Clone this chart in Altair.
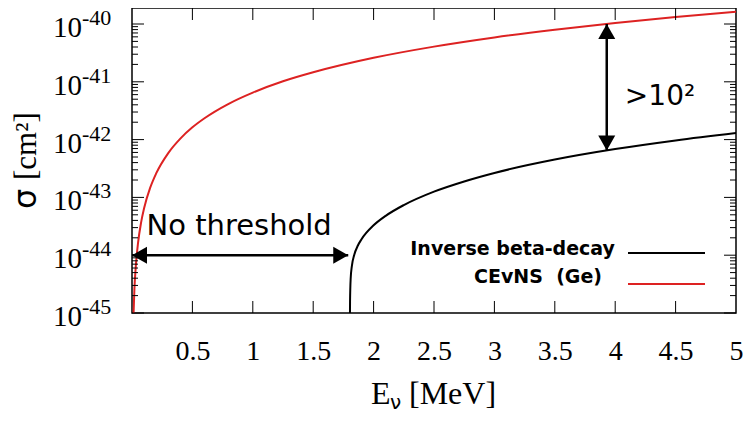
import altair as alt
import pandas as pd

# ---- data ----
# CEvNS (Ge) cross section (red curve)
cevns_E = [0.01, 0.02, 0.03, 0.05, 0.075, 0.1, 0.15, 0.2, 0.3, 0.4, 0.5, 0.6, 0.8,
           1.0, 1.25, 1.5, 2.0, 2.5, 3.0, 3.5, 4.0, 4.5, 5.0]
cevns_sigma = [6.5e-46, 2.6e-45, 5.85e-45, 1.63e-44, 3.66e-44, 6.5e-44, 1.46e-43,
               2.6e-43, 5.85e-43, 1.04e-42, 1.63e-42, 2.34e-42, 4.16e-42, 6.5e-42,
               1.02e-41, 1.46e-41, 2.6e-41, 4.06e-41, 5.85e-41, 7.96e-41, 1.04e-40,
               1.32e-40, 1.63e-40]

# Inverse beta-decay cross section (black curve)
ibd_E = [1.8041, 1.8045, 1.805, 1.81, 1.82, 1.84, 1.87, 1.9, 2.0, 2.1, 2.25, 2.5,
         2.75, 3.0, 3.5, 4.0, 4.5, 5.0]
ibd_sigma = [4.9e-46, 1.1e-45, 1.56e-45, 3.87e-45, 6.47e-45, 1.02e-44, 1.47e-44,
             1.89e-44, 3.29e-44, 4.80e-44, 7.37e-44, 1.26e-43, 1.89e-43, 2.65e-43,
             4.51e-43, 6.85e-43, 9.67e-43, 1.30e-42]

# axis ticks / labels
x_ticks = [0.5, 1, 1.5, 2, 2.5, 3, 3.5, 4, 4.5, 5]
y_exponents = [-45, -44, -43, -42, -41, -40]
y_exp_labels = ["-45", "-44", "-43", "-42", "-41", "-40"]
y_minor_mult = [2, 3, 4, 5, 6, 7, 8, 9]
x_title_parts = ["E", "ν", "[MeV]"]
y_title_parts = ["σ", "[cm²]"]

# annotations
gap_E = [3.93]
gap_top = [1.0e-40]
gap_bottom = [6.5e-43]
thr_start = [0.0]
thr_end = [1.79]
thr_level = [1e-44]
legend_labels = ["Inverse beta-decay", "CEvNS\u00a0\u00a0(Ge)"]

RED = "#dd2222"
W, H = 604, 305

df_red = pd.DataFrame({"E": cevns_E, "sigma": cevns_sigma})
df_blk = pd.DataFrame({"E": ibd_E, "sigma": ibd_sigma})
df_xt = pd.DataFrame({"E": x_ticks[:-1]})
df_ymaj = pd.DataFrame({"sigma": [10.0 ** e for e in y_exponents]})
df_ymin = pd.DataFrame({"sigma": [m * 10.0 ** e for e in y_exponents[:-1] for m in y_minor_mult]})
df_ylab = pd.DataFrame({"sigma": [10.0 ** e for e in y_exponents],
                        "base": ["10"] * len(y_exponents), "exp": y_exp_labels})
df_gap = pd.DataFrame({"E": gap_E, "sigma": gap_top, "sigma2": gap_bottom})
df_thr = pd.DataFrame({"E": thr_start, "E2": thr_end, "sigma": thr_level})

xs = alt.Scale(domain=[0, 5], nice=False, zero=False)
ys = alt.Scale(type="log", domain=[1e-45, 1.892e-40], nice=False)

xaxis = alt.Axis(values=x_ticks, labelExpr="datum.value", ticks=False, domain=False,
                 grid=False, labelFont="Liberation Serif", labelFontSize=28,
                 labelColor="black", labelPadding=24, labelFlush=False,
                 labelOverlap=False, title=None)
yaxis = alt.Axis(labels=False, ticks=False, domain=False, grid=False, title=None)

X = lambda f="E": alt.X(f"{f}:Q", scale=xs, axis=xaxis, title=None)
Y = lambda f="sigma": alt.Y(f"{f}:Q", scale=ys, axis=yaxis, title=None)

red = alt.Chart(df_red).mark_line(color=RED, strokeWidth=2, clip=True,
                                   interpolate="monotone").encode(x=X(), y=Y())
blk = alt.Chart(df_blk).mark_line(color="black", strokeWidth=2, clip=True,
                                   interpolate="monotone").encode(x=X(), y=Y())

tick_style = dict(color="black", strokeWidth=1)
xb = alt.Chart(df_xt).mark_rule(**tick_style).encode(
    x=X(), y=alt.value(H), y2=alt.value(H - 12))
xt = alt.Chart(df_xt).mark_rule(**tick_style).encode(
    x=X(), y=alt.value(0), y2=alt.value(12))
yl = alt.Chart(df_ymaj).mark_rule(**tick_style).encode(
    y=Y(), x=alt.value(0), x2=alt.value(12))
yr = alt.Chart(df_ymaj).mark_rule(**tick_style).encode(
    y=Y(), x=alt.value(W), x2=alt.value(W - 12))
yml = alt.Chart(df_ymin).mark_rule(**tick_style).encode(
    y=Y(), x=alt.value(0), x2=alt.value(6))
ymr = alt.Chart(df_ymin).mark_rule(**tick_style).encode(
    y=Y(), x=alt.value(W), x2=alt.value(W - 6))

ylab10 = alt.Chart(df_ylab).mark_text(align="right", baseline="alphabetic",
                                      font="Liberation Serif", fontSize=29, dy=13,
                                      color="black").encode(
    x=alt.value(-50), y=Y(), text="base:N")
ylabexp = alt.Chart(df_ylab).mark_text(align="left", baseline="alphabetic",
                                       font="Liberation Serif", fontSize=22, dy=1,
                                       color="black").encode(
    x=alt.value(-50), y=Y(), text="exp:N")

# axis titles (E with subscript nu, sigma [cm^2] rotated)
def label(txt, **kw):
    enc = {k: alt.value(v) for k, v in kw.pop("pos").items()}
    return alt.Chart(pd.DataFrame({"t": [txt]})).mark_text(
        baseline="alphabetic", color="black", **kw).encode(text="t:N", **enc)

xt_E = label(x_title_parts[0], align="left", font="Liberation Serif", fontSize=32,
             pos={"x": 239, "y": 396})
xt_nu = label(x_title_parts[1], align="left", font="DejaVu Sans", fontSize=20,
              pos={"x": 258, "y": 401})
xt_unit = label(x_title_parts[2], align="left", font="Liberation Serif", fontSize=32,
                pos={"x": 277, "y": 396})
yt_sig = label(y_title_parts[0], align="left", angle=270, font="DejaVu Sans",
               fontSize=32, pos={"x": -96, "y": 201})
yt_unit = label(y_title_parts[1], align="left", angle=270, font="Liberation Serif",
                fontSize=31, pos={"x": -96, "y": 172})

UP = "M0,0L-0.567,1L0.567,1Z"
DOWN = "M0,0L-0.567,-1L0.567,-1Z"
LEFT = "M0,0L1,-0.567L1,0.567Z"
RIGHT = "M0,0L-1,-0.567L-1,0.567Z"
head = dict(filled=True, size=900, color="black", opacity=1, strokeWidth=0)

gap_rule = alt.Chart(df_gap).mark_rule(color="black", strokeWidth=2.5).encode(
    x=X(), y=Y(), y2="sigma2:Q")
gap_up = alt.Chart(df_gap).mark_point(shape=UP, **head).encode(x=X(), y=Y())
gap_dn = alt.Chart(df_gap).mark_point(shape=DOWN, **head).encode(x=X(), y=Y("sigma2"))

thr_rule = alt.Chart(df_thr).mark_rule(color="black", strokeWidth=2.5).encode(
    x=X(), x2="E2:Q", y=Y())
thr_l = alt.Chart(df_thr).mark_point(shape=LEFT, **head).encode(x=X(), y=Y())
thr_r = alt.Chart(df_thr).mark_point(shape=RIGHT, **head).encode(x=X("E2"), y=Y())

txt_thr = alt.Chart(pd.DataFrame({"E": [0.12], "sigma": [2.2e-44], "t": ["No threshold"]})
                    ).mark_text(align="left", baseline="alphabetic",
                                font="DejaVu Sans", fontSize=29, color="black").encode(
    x=X(), y=Y(), text="t:N")
txt_gap = alt.Chart(pd.DataFrame({"E": [4.08], "sigma": [3.97e-42], "t": [">10²"]})
                    ).mark_text(align="left", baseline="alphabetic",
                                font="DejaVu Sans", fontSize=28, color="black").encode(
    x=X(), y=Y(), text="t:N")

leg_font = dict(align="right", baseline="alphabetic", font="DejaVu Sans",
                fontWeight="bold", fontSize=19, color="black")
leg_t1 = alt.Chart(pd.DataFrame({"t": [legend_labels[0]]})).mark_text(**leg_font).encode(
    x=alt.value(483), y=alt.value(247), text="t:N")
leg_t2 = alt.Chart(pd.DataFrame({"t": [legend_labels[1]]})).mark_text(**leg_font).encode(
    x=alt.value(470), y=alt.value(275), text="t:N")
leg_l1 = alt.Chart(pd.DataFrame({"t": [legend_labels[0]]})).mark_rule(
    color="black", strokeWidth=2).encode(x=alt.value(496), x2=alt.value(573),
                                         y=alt.value(245))
leg_l2 = alt.Chart(pd.DataFrame({"t": [legend_labels[1]]})).mark_rule(
    color=RED, strokeWidth=2).encode(x=alt.value(496), x2=alt.value(573),
                                     y=alt.value(276))

chart = alt.layer(
    red, blk, xb, xt, yl, yr, yml, ymr, ylab10, ylabexp,
    xt_E, xt_nu, xt_unit, yt_sig, yt_unit,
    gap_rule, gap_up, gap_dn, thr_rule, thr_l, thr_r, txt_thr, txt_gap,
    leg_t1, leg_t2, leg_l1, leg_l2
).properties(
    width=W, height=H,
    padding={"left": 124, "top": 0, "right": 7, "bottom": 100},
    autosize=alt.AutoSizeParams(type="none"),
).configure_view(stroke="black", strokeWidth=1.5)

chart.save("out.html", embed_options={"renderer": "svg", "actions": False})
